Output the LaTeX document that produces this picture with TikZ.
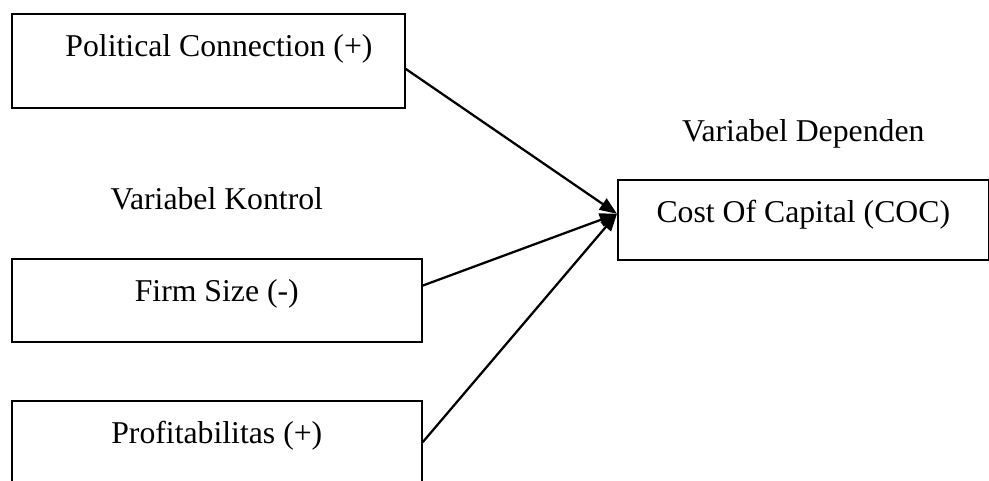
\documentclass[tikz,border=0pt]{standalone}
\usepackage{fontspec}
\setmainfont{Liberation Serif}
\usetikzlibrary{arrows.meta, positioning}
\tikzset{
	varbox/.style  ={rectangle, draw=black, line width=1.2pt, fill=white, anchor=north west, inner xsep=0pt, inner ysep=0pt, text height=32pt},
	grouplbl/.style={inner sep=0pt},
	effect/.style  ={-{Triangle[length=13pt, width=10pt]}, line width=1.7pt},
}

\begin{document}
\begin{tikzpicture}[x=0.75pt, y=-0.75pt, font=\fontsize{23.8}{28.5}\selectfont]
	\useasboundingbox (0,0) rectangle (989,480);
	% independent and control variables
	\node[varbox, minimum width=294.75pt, text depth=38.5pt] (pc) at (11,13) {\hspace*{16pt}Political Connection (+)};
	\node[varbox, minimum width=307.5pt, text depth=30.25pt] (fs) at (11,258) {Firm Size (-)};
	\node[varbox, minimum width=307.5pt, text depth=30.25pt] (pr) at (11,400) {Profitabilitas (+)};
	% dependent variable
	\node[varbox, minimum width=278.25pt, text depth=28pt] (coc) at (617,179) {Cost Of Capital (COC)};
	% group labels
	\node[grouplbl, above=23pt of coc] (dep) {Variabel Dependen};
	\node[grouplbl, above=36pt of fs] (ctl) {Variabel Kontrol};
	% relations
	\draw[effect] ([yshift=-6pt]pc.east) -- ([yshift=4.5pt]coc.west);
	\draw[effect] ([yshift=11pt]fs.east) -- ([yshift=4.5pt]coc.west);
	\draw[effect] (pr.east) -- ([yshift=4.5pt]coc.west);
\end{tikzpicture}
\end{document}
